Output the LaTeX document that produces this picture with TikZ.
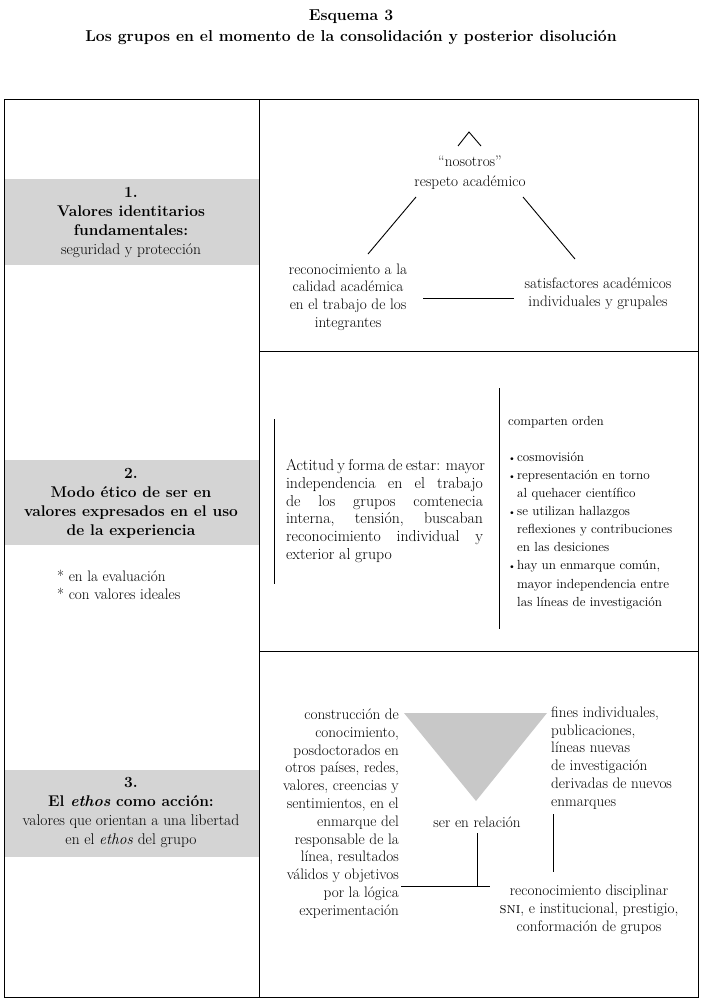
\documentclass[tikz,border=0pt]{standalone}
\usepackage{tikz}
\definecolor{boxgray}{RGB}{212,212,212}
\definecolor{trigray}{RGB}{200,200,200}
\newcommand{\bodyfont}{\fontsize{15.2}{17.8}\selectfont}
\newcommand{\leftfont}{\fontsize{15.5}{19}\selectfont}
\newcommand{\titlefont}{\fontsize{15.8}{20}\selectfont}
\newcommand{\parfont}{\fontsize{15.8}{17.8}\selectfont}
\newcommand{\listfont}{\fontsize{13.2}{18.1}\selectfont}
\newcommand{\bul}{\makebox[9pt][l]{\fontsize{10}{10}\selectfont\textbullet}}
\newcommand{\ind}{\hspace*{9pt}}
\newcommand{\jline}[1]{\makebox[197pt][s]{#1}}
\begin{document}
\begin{tikzpicture}[x=1pt,y=-1pt,
  txt/.style={inner sep=0pt, font=\bodyfont, align=center},
  ltxt/.style={inner sep=0pt, font=\leftfont, align=center},
  ttl/.style={inner sep=0pt, font=\titlefont\bfseries, align=center},
  frame/.style={line width=1pt},
  link/.style={line width=0.9pt}]
\useasboundingbox (0,0) rectangle (702,1004);

% title
\node[ttl] (t1) at (351,17) {Esquema 3};
\node[ttl] (t2) at (351,38) {Los grupos en el momento de la consolidación y posterior disolución};

% gray bands in left column
\fill[boxgray] (4,179) rectangle (259,265);
\fill[boxgray] (4,460) rectangle (259,545);
\fill[boxgray] (4,770) rectangle (259,857);

% frame
\draw[frame] (4,99) rectangle (698,997);
\draw[frame] (259,99) -- (259,997);
\draw[frame] (259,351.5) -- (698,351.5);
\draw[frame] (259,651.5) -- (698,651.5);

% left column texts
\node[ltxt] (b1) at (131,222.5) {\textbf{1.}\\\textbf{Valores identitarios}\\\textbf{fundamentales:}\\seguridad y protección};
\node[ltxt] (b2) at (131,503.5) {\textbf{2.}\\\textbf{Modo ético de ser en}\\\textbf{valores expresados en el uso}\\\textbf{de la experiencia}};
\node[txt, align=left, anchor=west] (b2s) at (57,584.5) {* en la evaluación\\* con valores ideales};
\node[ltxt] (b3) at (131,812.5) {\textbf{3.}\\\textbf{El \textit{ethos} como acción:}\\valores que orientan a una libertad\\en el \textit{ethos} del grupo};

% panel 1
\coordinate (c1) at (458,146);
\coordinate (c2) at (469,132);
\coordinate (c3) at (481,146);
\draw[link] (c1) -- (c2) -- (c3);
\node[txt, font=\fontsize{15.2}{20}\selectfont] (nos) at (470,172.5) {“nosotros”\\respeto académico};
\node[txt] (rec) at (348,297) {reconocimiento a la\\calidad académica\\en el trabajo de los\\integrantes};
\node[txt] (sat) at (598,293.5) {satisfactores académicos\\individuales y grupales};
\coordinate (l1a) at (416,197);
\coordinate (l1b) at (368,254);
\coordinate (l2a) at (523,197);
\coordinate (l2b) at (575,259);
\coordinate (l3a) at (423,298);
\coordinate (l3b) at (514,298);
\draw[link] (l1a) -- (l1b);
\draw[link] (l2a) -- (l2b);
\draw[link] (l3a) -- (l3b);

% panel 2
\coordinate (v1a) at (274,419);
\coordinate (v1b) at (274,584);
\draw[link] (v1a) -- (v1b);
\coordinate (v2a) at (499.5,388);
\coordinate (v2b) at (499.5,629);
\draw[link] (v2a) -- (v2b);
\node[inner sep=0pt, font=\parfont, align=left] (par) at (384.5,511) {%
\jline{Actitud y forma de estar: mayor}\\
\jline{independencia en el trabajo}\\
\jline{de los grupos comtenecia}\\
\jline{interna, tensión, buscaban}\\
\jline{reconocimiento individual y}\\
exterior al grupo};
\node[inner sep=0pt, font=\listfont, align=left, anchor=west] (comp) at (508,422) {comparten orden};
\node[inner sep=0pt, font=\listfont, align=left, anchor=west] (lst) at (508,530.5) {%
\bul cosmovisión\\
\bul representación en torno\\
\ind al quehacer científico\\
\bul se utilizan hallazgos\\
\ind reflexiones y contribuciones\\
\ind en las desiciones\\
\bul hay un enmarque común,\\
\ind mayor independencia entre\\
\ind las líneas de investigación};

% panel 3
\coordinate (ta) at (404,713);
\coordinate (tb) at (547,713);
\coordinate (tc) at (476,801);
\fill[trigray] (ta) -- (tb) -- (tc) -- cycle;
\node[txt, align=right, anchor=east] (lt) at (399,813.5) {construcción de\\conocimiento,\\posdoctorados en\\otros países, redes,\\valores, creencias y\\sentimientos, en el\\enmarque del\\responsable de la\\línea, resultados\\válidos y objetivos\\por la lógica\\experimentación};
\node[txt, align=left, anchor=west] (rt) at (551,758) {fines individuales,\\publicaciones,\\líneas nuevas\\de investigación\\derivadas de nuevos\\enmarques};
\node[txt] (ser) at (477,822) {ser en relación};
\node[txt] (bt) at (589,910) {reconocimiento disciplinar\\\textsc{sni}, e institucional, prestigio,\\conformación de grupos};
\coordinate (s1) at (477,833);
\coordinate (s2) at (477,886);
\coordinate (h1) at (401,886);
\coordinate (h2) at (490,886);
\coordinate (r1) at (553,814);
\coordinate (r2) at (553,872);
\draw[link] (s1) -- (s2);
\draw[link] (h1) -- (h2);
\draw[link] (r1) -- (r2);
\end{tikzpicture}
\end{document}
